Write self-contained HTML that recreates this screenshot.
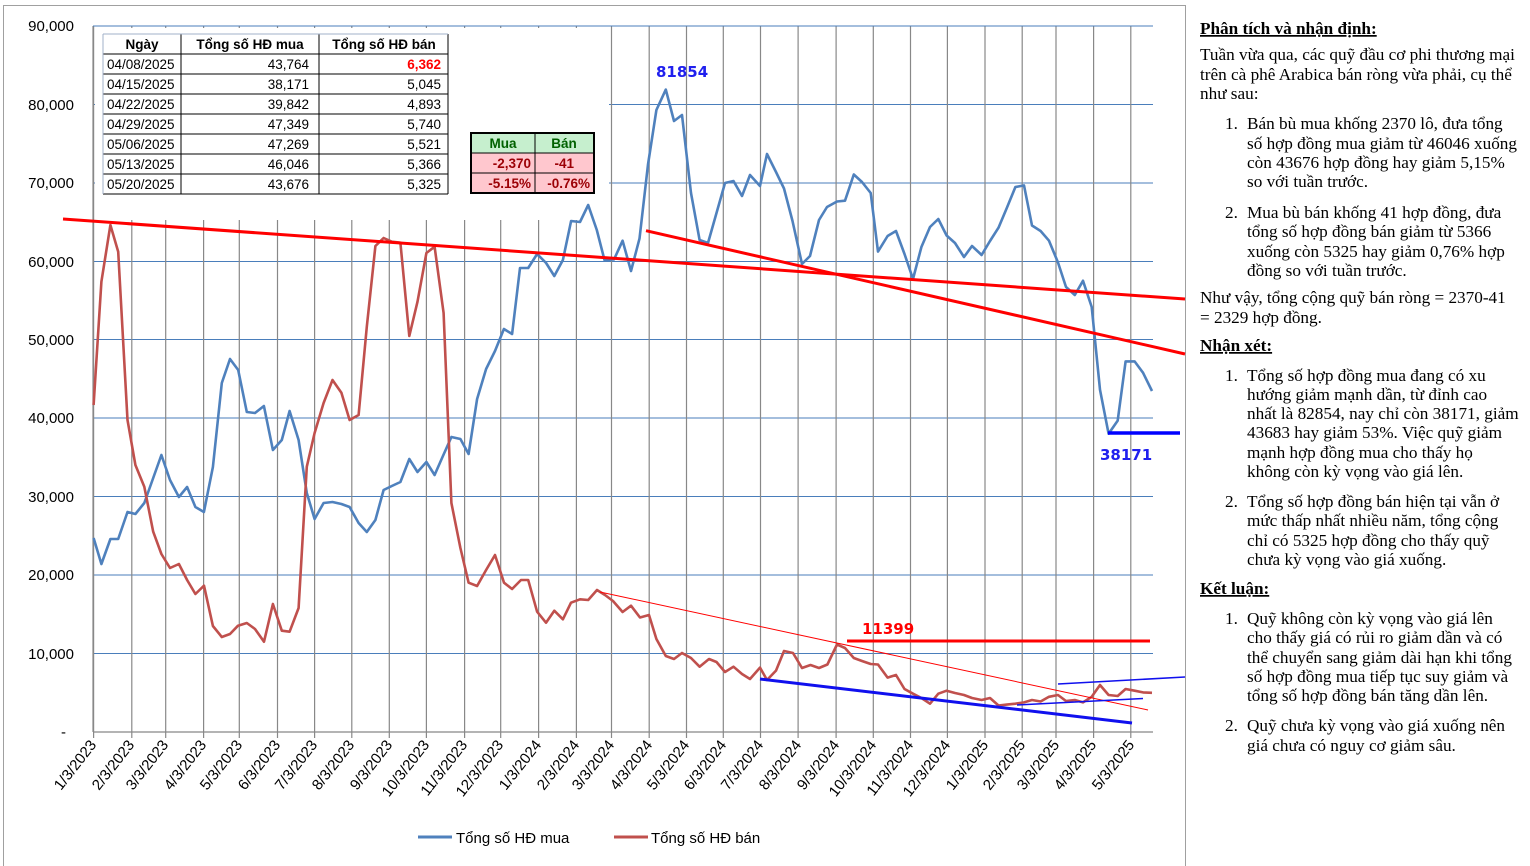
<!DOCTYPE html>
<html><head><meta charset="utf-8"><style>
html,body{margin:0;padding:0;background:#fff;}
svg{display:block;}
.t{font-family:"Liberation Serif","DejaVu Serif",serif;font-size:17.2px;fill:#000;}
.a{font-family:"Liberation Sans",Arial,sans-serif;font-size:15px;fill:#000;}
.tb{font-family:"Liberation Sans",Arial,sans-serif;font-size:13.5px;fill:#000;}
</style></head><body>
<svg width="1530" height="866" viewBox="0 0 1530 866" xmlns="http://www.w3.org/2000/svg">
<rect x="0" y="0" width="1530" height="866" fill="#fff"/>
<rect x="3.5" y="5.5" width="1182" height="870" fill="none" stroke="#a0a0a0" stroke-width="1"/>
<g stroke="#4a7ebb" stroke-width="1">
<line x1="93" y1="26" x2="1153" y2="26"/>
<line x1="93" y1="104.5" x2="1153" y2="104.5"/>
<line x1="93" y1="183" x2="1153" y2="183"/>
<line x1="93" y1="261.5" x2="1153" y2="261.5"/>
<line x1="93" y1="339.5" x2="1153" y2="339.5"/>
<line x1="93" y1="418" x2="1153" y2="418"/>
<line x1="93" y1="496.5" x2="1153" y2="496.5"/>
<line x1="93" y1="575" x2="1153" y2="575"/>
<line x1="93" y1="653.5" x2="1153" y2="653.5"/>
</g>
<g stroke="#888" stroke-width="1.2">
<line x1="93.6" y1="26" x2="93.6" y2="738"/><line x1="131.8" y1="26" x2="131.8" y2="738"/><line x1="165.7" y1="26" x2="165.7" y2="738"/><line x1="203.6" y1="26" x2="203.6" y2="738"/><line x1="239.3" y1="26" x2="239.3" y2="738"/><line x1="277.5" y1="26" x2="277.5" y2="738"/><line x1="314.6" y1="26" x2="314.6" y2="738"/><line x1="351.8" y1="26" x2="351.8" y2="738"/><line x1="389.3" y1="26" x2="389.3" y2="738"/><line x1="426.4" y1="26" x2="426.4" y2="738"/><line x1="464.6" y1="26" x2="464.6" y2="738"/><line x1="500.7" y1="26" x2="500.7" y2="738"/><line x1="538.6" y1="26" x2="538.6" y2="738"/><line x1="576.4" y1="26" x2="576.4" y2="738"/><line x1="611.5" y1="26" x2="611.5" y2="738"/><line x1="649.2" y1="26" x2="649.2" y2="738"/><line x1="686.5" y1="26" x2="686.5" y2="738"/><line x1="723.3" y1="26" x2="723.3" y2="738"/><line x1="760.5" y1="26" x2="760.5" y2="738"/><line x1="798.1" y1="26" x2="798.1" y2="738"/><line x1="836.1" y1="26" x2="836.1" y2="738"/><line x1="873.3" y1="26" x2="873.3" y2="738"/><line x1="910.5" y1="26" x2="910.5" y2="738"/><line x1="947.4" y1="26" x2="947.4" y2="738"/><line x1="985" y1="26" x2="985" y2="738"/><line x1="1022.2" y1="26" x2="1022.2" y2="738"/><line x1="1056" y1="26" x2="1056" y2="738"/><line x1="1093.6" y1="26" x2="1093.6" y2="738"/><line x1="1130.8" y1="26" x2="1130.8" y2="738"/>
<line x1="93" y1="732" x2="1153" y2="732"/>
<line x1="93" y1="26" x2="93" y2="732"/>
</g>
<rect x="95" y="28" width="514" height="192" fill="#fff"/>
<line x1="93" y1="26" x2="1153" y2="26" stroke="#4a7ebb"/>
<g class="a" text-anchor="end" font-size="15.5">
<text x="74" y="31">90,000</text><text x="74" y="110">80,000</text><text x="74" y="188">70,000</text><text x="74" y="267">60,000</text><text x="74" y="345">50,000</text><text x="74" y="423">40,000</text><text x="74" y="502">30,000</text><text x="74" y="580">20,000</text><text x="74" y="659">10,000</text><text x="66" y="737">-</text>
</g>
<g class="a" text-anchor="end" font-size="15">
<text transform="translate(97,745) rotate(-52)">1/3/2023</text>
<text transform="translate(135,745) rotate(-52)">2/3/2023</text>
<text transform="translate(169,745) rotate(-52)">3/3/2023</text>
<text transform="translate(207,745) rotate(-52)">4/3/2023</text>
<text transform="translate(243,745) rotate(-52)">5/3/2023</text>
<text transform="translate(281,745) rotate(-52)">6/3/2023</text>
<text transform="translate(318,745) rotate(-52)">7/3/2023</text>
<text transform="translate(355,745) rotate(-52)">8/3/2023</text>
<text transform="translate(393,745) rotate(-52)">9/3/2023</text>
<text transform="translate(430,745) rotate(-52)">10/3/2023</text>
<text transform="translate(468,745) rotate(-52)">11/3/2023</text>
<text transform="translate(504,745) rotate(-52)">12/3/2023</text>
<text transform="translate(542,745) rotate(-52)">1/3/2024</text>
<text transform="translate(580,745) rotate(-52)">2/3/2024</text>
<text transform="translate(615,745) rotate(-52)">3/3/2024</text>
<text transform="translate(653,745) rotate(-52)">4/3/2024</text>
<text transform="translate(690,745) rotate(-52)">5/3/2024</text>
<text transform="translate(727,745) rotate(-52)">6/3/2024</text>
<text transform="translate(764,745) rotate(-52)">7/3/2024</text>
<text transform="translate(802,745) rotate(-52)">8/3/2024</text>
<text transform="translate(840,745) rotate(-52)">9/3/2024</text>
<text transform="translate(877,745) rotate(-52)">10/3/2024</text>
<text transform="translate(914,745) rotate(-52)">11/3/2024</text>
<text transform="translate(951,745) rotate(-52)">12/3/2024</text>
<text transform="translate(989,745) rotate(-52)">1/3/2025</text>
<text transform="translate(1026,745) rotate(-52)">2/3/2025</text>
<text transform="translate(1060,745) rotate(-52)">3/3/2025</text>
<text transform="translate(1097,745) rotate(-52)">4/3/2025</text>
<text transform="translate(1135,745) rotate(-52)">5/3/2025</text>
</g>
<polyline fill="none" stroke="#4f81bd" stroke-width="2.6" stroke-linejoin="round" points="93.6,538 101.4,564 110.4,539 118.2,539 127.5,512 135.4,514 144.3,503 153.2,478 161.4,455 170,480 178.9,497 187.1,487 195.4,507 203.9,512 212.9,467 221.8,383 230,359 238.2,370 246.8,412 255,413 263.9,406 272.9,450 281.8,440 289.6,411 298.6,440 306.8,493 314.6,519 323.6,503 332.5,502 341.4,504 349.6,507 358.6,523 366.8,532 375.4,520 383.6,490 391.8,486 400.4,482 409.3,459 417.5,472 426.4,462 434.6,475 442.5,457 451.4,437 460.4,439 468.6,454 477.1,399 486.1,369 495,351 503.9,329 512.1,334 520,268 528.2,268 537.1,254 546.1,263 554.3,276 562.9,260 571.1,221 580,222 588.2,205 596.8,230 604.5,260 614,259.5 622.6,240.7 631,271 639.5,238.6 648,164.5 656.4,110 665.8,89.6 674,121 682,115 691,193 699.6,240 708,243 716.5,213 725,183 733.5,181 742,196 750,175 760,186 767,154 776,172 784,188.5 792.5,221 802,264 810,256 819,220 827,207 837,201.5 845,200.7 853.8,174.5 862,182 870.7,193 878,251.6 887.6,236 896,231 904.5,254 913,279 921.4,247 930,227 938.3,219 946.6,235.5 955,243 964,257 972,246 981.6,255 990,241 998.5,227.7 1006.8,208 1015.4,187 1024,185.4 1032,225.5 1040.6,231 1049,240.7 1058,262.5 1066,287 1074.8,295 1083,280.8 1091.7,307 1100,389.7 1108.6,433.7 1117.7,420.6 1125.6,361.4 1134.6,361.4 1143,372.7 1152,391"/>
<polyline fill="none" stroke="#c0504d" stroke-width="2.6" stroke-linejoin="round" points="93.6,405 101.4,281.7 110.4,225 118.2,251.7 127.5,420 135.4,465 144.3,486.7 153.2,531.7 161.4,554 170,568 178.9,564 187.1,580 195.4,594 204,585.7 212.9,626 221.8,637 230,634 238,625.7 246.8,623 255,629 264,641.7 272.9,604 281.8,630.7 289.6,631.7 298.6,608 306.8,466.7 314.6,433 323.6,403 332.5,380 341.4,392.7 349.6,420 358.6,415 366.8,326.7 375.4,246 383.6,238 391.8,241.7 400.4,242.7 409.3,336 417.5,301.7 426.4,253 434.6,246.7 443.6,313 451.4,503 460.4,548 468.6,582.7 477.1,586 486.1,570 495,555 504,582.7 512.1,589 521,580 528.2,580 537.1,611.7 546,622.7 554.3,610.7 562.9,619.3 571,602.7 580,599.3 588.2,600 597,590 605,595 613,601 622.6,612 631,605.7 640,617.5 649,615 656.4,639 665.8,656 674,659 682,653 691,658 699.6,666.7 709,659 716.5,662 725,672 733.5,666.7 742,674 750,679 760,667.6 767,680 776,670.6 784,651 793,653 802,668 810.5,665 819,668 827.4,664.5 837,644.5 845,648 853.8,658 862,661 870.7,664 878,664.5 887.6,677.6 896,675 904.5,689 913,693.7 921.4,698 930,703.7 938.3,693.7 946.6,690.7 955,693 964,695 972,698 981.6,700 990,698 998.5,705.5 1006.8,704.6 1015.4,703.7 1024,702.4 1032,700 1040.6,701.5 1049,696.8 1058,695 1066,701 1074.8,700 1083,702.4 1091.7,696.8 1100,685 1108.6,695 1117.7,696 1125.6,689 1134.6,690.7 1143,692.4 1152,692.8"/>
<line x1="63" y1="219" x2="1185" y2="299" stroke="#ff0000" stroke-width="3"/>
<line x1="646" y1="230.7" x2="1185" y2="354" stroke="#ff0000" stroke-width="3"/>
<line x1="600" y1="592" x2="1148" y2="710" stroke="#ff0000" stroke-width="1"/>
<line x1="847" y1="641" x2="1150" y2="641" stroke="#ff0000" stroke-width="3"/>
<line x1="1108" y1="433" x2="1180" y2="433" stroke="#0000ff" stroke-width="3.5"/>
<line x1="760" y1="679" x2="1132" y2="723" stroke="#1010ee" stroke-width="3"/>
<line x1="1058" y1="684" x2="1185" y2="677" stroke="#1010ee" stroke-width="1.6"/>
<line x1="1017" y1="705" x2="1143" y2="698.5" stroke="#1010ee" stroke-width="1.6"/>
<g font-family="'DejaVu Sans',sans-serif" font-weight="bold" font-size="15">
<text x="656" y="77" fill="#2020ee">81854</text>
<text x="1100" y="460" fill="#2020ee">38171</text>
<text x="862" y="634" fill="#ff0000">11399</text>
</g>
<rect x="103" y="34" width="345" height="160" fill="#fff"/>
<g stroke="#000" stroke-width="1">
<line x1="103" y1="54" x2="448" y2="54"/><line x1="103" y1="74" x2="448" y2="74"/><line x1="103" y1="94" x2="448" y2="94"/><line x1="103" y1="114" x2="448" y2="114"/><line x1="103" y1="134" x2="448" y2="134"/><line x1="103" y1="154" x2="448" y2="154"/><line x1="103" y1="174" x2="448" y2="174"/><line x1="103" y1="194" x2="448" y2="194"/>
<line x1="448" y1="34" x2="448" y2="194"/><line x1="181" y1="34" x2="181" y2="194"/><line x1="319" y1="34" x2="319" y2="194"/>
</g>
<line x1="103" y1="34" x2="448" y2="34" stroke="#a0b0c8"/>
<line x1="103" y1="34" x2="103" y2="194" stroke="#a0b0c8"/>
<g class="tb">
<g font-weight="bold" text-anchor="middle"><text x="142" y="49">Ngày</text><text x="250" y="49">Tổng số HĐ mua</text><text x="384" y="49">Tổng số HĐ bán</text></g>
<text x="107" y="69">04/08/2025</text><text x="107" y="89">04/15/2025</text><text x="107" y="109">04/22/2025</text><text x="107" y="129">04/29/2025</text><text x="107" y="149">05/06/2025</text><text x="107" y="169">05/13/2025</text><text x="107" y="189">05/20/2025</text>
<g text-anchor="end"><text x="309" y="69">43,764</text><text x="309" y="89">38,171</text><text x="309" y="109">39,842</text><text x="309" y="129">47,349</text><text x="309" y="149">47,269</text><text x="309" y="169">46,046</text><text x="309" y="189">43,676</text>
<text x="441" y="69" fill="#ff0000" font-weight="bold">6,362</text><text x="441" y="89">5,045</text><text x="441" y="109">4,893</text><text x="441" y="129">5,740</text><text x="441" y="149">5,521</text><text x="441" y="169">5,366</text><text x="441" y="189">5,325</text></g>
</g>
<rect x="471" y="133" width="123" height="20" fill="#c6efce"/>
<rect x="471" y="153" width="123" height="40" fill="#ffc7ce"/>
<g stroke="#000" stroke-width="2" fill="none"><rect x="471" y="133" width="123" height="60"/></g>
<g stroke="#000" stroke-width="1"><line x1="471" y1="153" x2="594" y2="153"/><line x1="471" y1="173" x2="594" y2="173"/><line x1="535" y1="133" x2="535" y2="193"/></g>
<g class="tb" font-weight="bold" text-anchor="middle"><text x="503" y="148" fill="#006100">Mua</text><text x="564" y="148" fill="#006100">Bán</text></g>
<g class="tb" font-weight="bold" text-anchor="end"><text x="531" y="168" fill="#9c0006">-2,370</text><text x="574" y="168" fill="#9c0006">-41</text><text x="531" y="188" fill="#9c0006">-5.15%</text><text x="590" y="188" fill="#9c0006">-0.76%</text></g>
<line x1="418" y1="837" x2="452" y2="837" stroke="#4f81bd" stroke-width="3"/>
<text x="456" y="843" class="a" font-size="16.5">Tổng số HĐ mua</text>
<line x1="614" y1="837" x2="648" y2="837" stroke="#c0504d" stroke-width="3"/>
<text x="651" y="843" class="a" font-size="16.5">Tổng số HĐ bán</text>
<g class="t">
<text x="1200" y="34" font-weight="bold" text-decoration="underline">Phân tích và nhận định:</text>
<text x="1200" y="60">Tuần vừa qua, các quỹ đầu cơ phi thương mại</text>
<text x="1200" y="80">trên cà phê Arabica bán ròng vừa phải, cụ thể</text>
<text x="1200" y="99">như sau:</text>
<text x="1225" y="129">1.</text><text x="1247" y="129">Bán bù mua khống 2370 lô, đưa tổng</text>
<text x="1247" y="149">số hợp đồng mua giảm từ 46046 xuống</text>
<text x="1247" y="168">còn 43676 hợp đồng hay giảm 5,15%</text>
<text x="1247" y="187">so với tuần trước.</text>
<text x="1225" y="218">2.</text><text x="1247" y="218">Mua bù bán khống 41 hợp đồng, đưa</text>
<text x="1247" y="237">tổng số hợp đồng bán giảm từ 5366</text>
<text x="1247" y="257">xuống còn 5325 hay giảm 0,76% hợp</text>
<text x="1247" y="276">đồng so với tuần trước.</text>
<text x="1200" y="303">Như vậy, tổng cộng quỹ bán ròng = 2370-41</text>
<text x="1200" y="323">= 2329 hợp đồng.</text>
<text x="1200" y="351" font-weight="bold" text-decoration="underline">Nhận xét:</text>
<text x="1225" y="381">1.</text><text x="1247" y="381">Tổng số hợp đồng mua đang có xu</text>
<text x="1247" y="400">hướng giảm mạnh dần, từ đỉnh cao</text>
<text x="1247" y="419">nhất là 82854, nay chỉ còn 38171, giảm</text>
<text x="1247" y="438">43683 hay giảm 53%. Việc quỹ giảm</text>
<text x="1247" y="458">mạnh hợp đồng mua cho thấy họ</text>
<text x="1247" y="477">không còn kỳ vọng vào giá lên.</text>
<text x="1225" y="507">2.</text><text x="1247" y="507">Tổng số hợp đồng bán hiện tại vẫn ở</text>
<text x="1247" y="526">mức thấp nhất nhiều năm, tổng cộng</text>
<text x="1247" y="546">chỉ có 5325 hợp đồng cho thấy quỹ</text>
<text x="1247" y="565">chưa kỳ vọng vào giá xuống.</text>
<text x="1200" y="594" font-weight="bold" text-decoration="underline">Kết luận:</text>
<text x="1225" y="624">1.</text><text x="1247" y="624">Quỹ không còn kỳ vọng vào giá lên</text>
<text x="1247" y="643">cho thấy giá có rủi ro giảm dần và có</text>
<text x="1247" y="663">thể chuyển sang giảm dài hạn khi tổng</text>
<text x="1247" y="682">số hợp đồng mua tiếp tục suy giảm và</text>
<text x="1247" y="701">tổng số hợp đồng bán tăng dần lên.</text>
<text x="1225" y="731">2.</text><text x="1247" y="731">Quỹ chưa kỳ vọng vào giá xuống nên</text>
<text x="1247" y="751">giá chưa có nguy cơ giảm sâu.</text>
</g>
</svg>
</body></html>
